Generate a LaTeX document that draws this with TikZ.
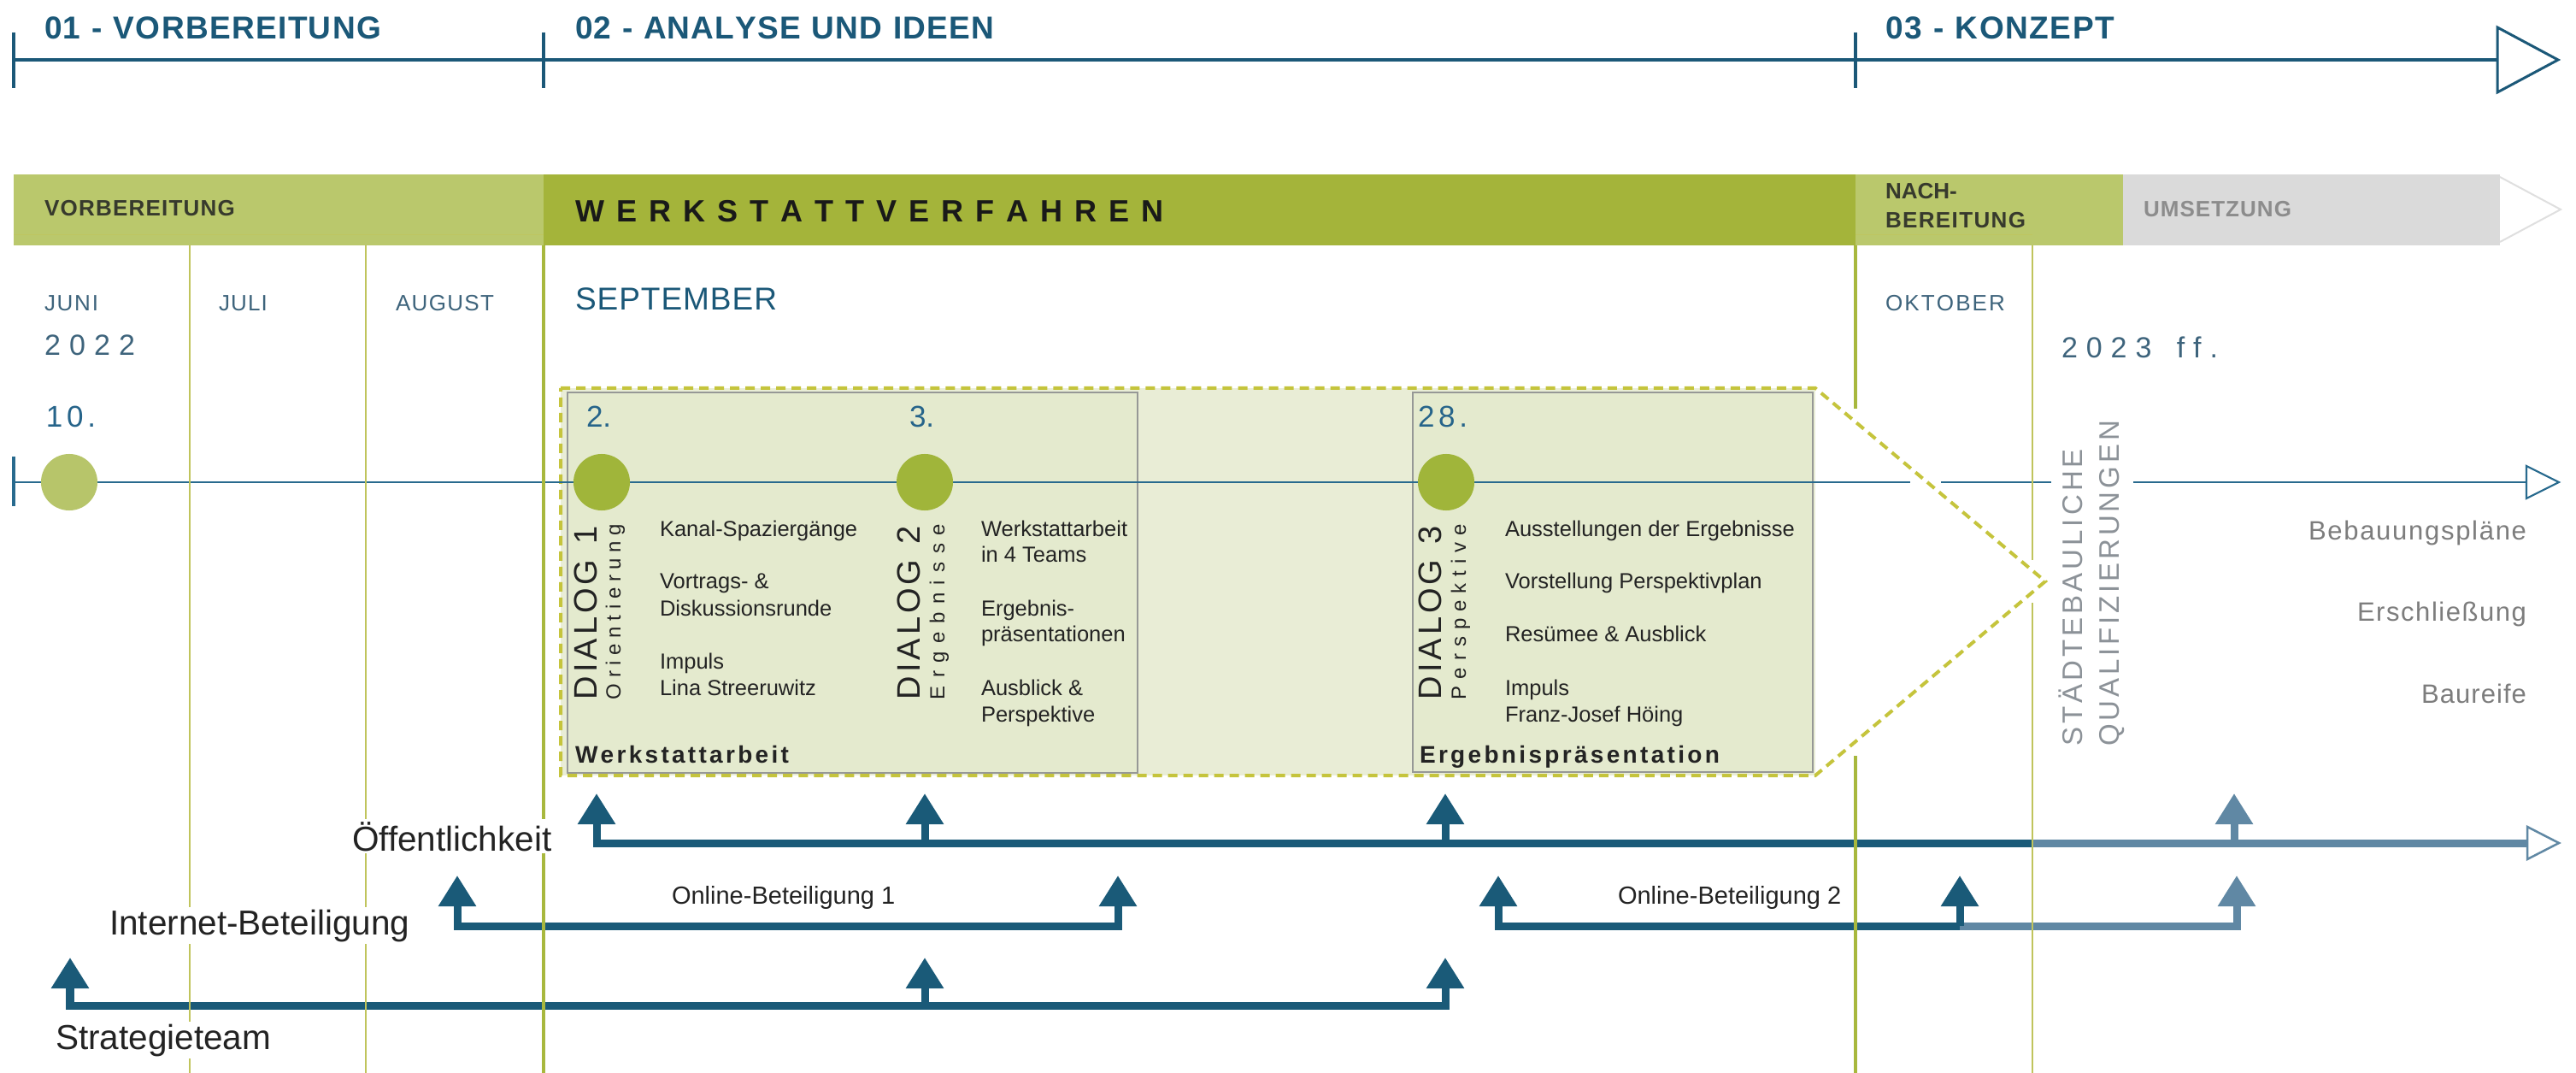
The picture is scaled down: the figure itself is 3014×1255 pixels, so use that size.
\documentclass[tikz,border=0pt]{standalone}
\usepackage{fontspec}
\setmainfont{Liberation Sans}
\usetikzlibrary{arrows.meta}
\newcommand\fpx[1]{\fontsize{\fpeval{#1*0.28453}}{\fpeval{#1*0.34}}\selectfont}
\newdimen\pxu
\pxu=0.01cm
\def\sprdloop#1{\ifx\relax#1\else#1\hfil\expandafter\sprdloop\fi}
\newcommand\sprd[2]{\makebox[#1\pxu][s]{\sprdloop#2\relax\unskip}}
\definecolor{cPhase}{RGB}{27,88,120}
\definecolor{cArrow}{RGB}{26,90,120}
\definecolor{cArrowL}{RGB}{96,136,164}
\definecolor{cMid}{RGB}{40,106,142}
\definecolor{cBarL}{RGB}{186,200,108}
\definecolor{cBarD}{RGB}{164,180,58}
\definecolor{cBarG}{RGB}{218,218,218}
\definecolor{cVline}{RGB}{192,196,92}
\definecolor{cVlineT}{RGB}{168,184,62}
\definecolor{cDot}{RGB}{160,181,58}
\definecolor{cDotL}{RGB}{183,197,106}
\definecolor{cPanel}{RGB}{233,237,214}
\definecolor{cInner}{RGB}{228,234,206}
\definecolor{cBox}{RGB}{150,152,150}
\definecolor{cDash}{RGB}{197,196,60}
\definecolor{cMonth}{RGB}{62,100,124}
\definecolor{cDate}{RGB}{38,100,138}
\definecolor{cText}{RGB}{35,35,35}
\definecolor{cGrayT}{RGB}{125,125,125}
\definecolor{cStaedt}{RGB}{140,146,152}
\definecolor{cBarTxt}{RGB}{55,58,45}
\definecolor{cUms}{RGB}{140,140,140}
\begin{document}
\begin{tikzpicture}[x=0.01cm,y=-0.01cm,
  lbl/.style={inner sep=0pt, outer sep=0pt, anchor=base west},
  phase/.style={lbl, font={\fpx{37}\bfseries}, text=cPhase},
  bartxt/.style={lbl, font={\fpx{26}\bfseries}, text=cBarTxt},
  month/.style={lbl, font={\fpx{26}}, text=cMonth},
  year/.style={lbl, font={\fpx{34}}, text=cMonth},
  datelbl/.style={lbl, font={\fpx{35}}, text=cDate},
  dot/.style={circle, fill=cDot, minimum size=0.66cm, inner sep=0pt},
  dlg/.style={lbl, rotate=90, font={\fpx{38}}, text=cText},
  dsub/.style={lbl, rotate=90, font={\fpx{24}}, text=cText},
  body/.style={lbl, font={\fpx{25.5}}, text=cText},
  boldlbl/.style={lbl, font={\fpx{28}\bfseries}, text=cText},
  right/.style={inner sep=0pt, outer sep=0pt, anchor=base east, font={\fpx{31}}, text=cGrayT},
  staedt/.style={lbl, rotate=90, font={\fpx{33}}, text=cStaedt},
  group/.style={inner sep=0.03cm, outer sep=0pt, anchor=base west, fill=white, font={\fpx{40.5}}, text=cText},
  online/.style={lbl, font={\fpx{29}}, text=cText},
  vthin/.style={draw=cVline, line width=0.02cm},
  vthick/.style={draw=cVlineT, line width=0.035cm},
  mid/.style={draw=cMid, line width=0.025cm},
  fat/.style={draw=cArrow, line width=0.09cm, line join=miter},
  fatL/.style={draw=cArrowL, line width=0.09cm, line join=miter},
  upArrow/.style={-{Triangle[length=0.36cm,width=0.42cm]}},
  bothArrow/.style={{Triangle[length=0.36cm,width=0.42cm]}-{Triangle[length=0.36cm,width=0.42cm]}},
  dashline/.style={draw=cDash, line width=0.04cm, dash pattern=on 0.11cm off 0.07cm},
  boxline/.style={draw=cBox, line width=0.012cm, fill=cInner}
]
\useasboundingbox (0,0) rectangle (3014,1255);
\fill[white] (0,0) rectangle (3014,1255);

% ---------- top phase timeline
\coordinate (t0) at (16,70);
\coordinate (t3) at (2922,70);
\draw[cPhase, line width=0.04cm] (t0) -- (t3);
\draw[cPhase, line width=0.035cm] (16,38) -- (16,103);
\draw[cPhase, line width=0.035cm] (636,38) -- (636,103);
\draw[cPhase, line width=0.035cm] (2171,38) -- (2171,103);
\draw[cPhase, line width=0.03cm, fill=white, line join=miter] (2922,32) -- (2993,70) -- (2922,108) -- cycle;
\node[phase] (p1) at (52,46) {\sprd{394}{01~-~VORBEREITUNG}};
\node[phase] (p2) at (673,46) {\sprd{490}{02~-~ANALYSE~UND~IDEEN}};
\node[phase] (p3) at (2206,46) {\sprd{268}{03~-~KONZEPT}};

% ---------- bar
\fill[cBarL] (16,204) rectangle (636,287);
\fill[cBarD] (636,204) rectangle (2171,287);
\fill[cBarL] (2171,204) rectangle (2484,287);
\fill[cBarG] (2484,204) rectangle (2925,287);
\draw[draw=cBarG!80!black!40, line width=0.02cm, fill=white, line join=miter] (2925,207) -- (2996,245) -- (2925,283);
\draw[draw=cVline!70!cBarL, line width=0.01cm] (16,275) -- (636,275) (2171,275) -- (2378,275);
\node[bartxt] (b1) at (52,253) {\sprd{223}{VORBEREITUNG}};
\node[lbl, font={\fpx{36}\bfseries}, text=black!90] (b2) at (673,260) {\sprd{689}{WERKSTATTVERFAHREN}};
\node[bartxt] (b3a) at (2206,233) {NACH-};
\node[bartxt] (b3b) at (2206,267) {\sprd{164}{BEREITUNG}};
\node[bartxt, text=cUms] (b4) at (2508,254) {\sprd{173}{UMSETZUNG}};

% ---------- months
\node[month] (mJun) at (52,364) {\sprd{63}{JUNI}};
\node[month] (mJul) at (256,364) {\sprd{57}{JULI}};
\node[month] (mAug) at (463,364) {\sprd{115}{AUGUST}};
\node[lbl, font={\fpx{37}}, text=cPhase] (mSep) at (673,363) {\sprd{236}{SEPTEMBER}};
\node[month] (mOkt) at (2206,364) {\sprd{140}{OKTOBER}};
\node[year] (y22) at (52,416) {\sprd{106}{2022}};
\node[year] (y23) at (2412,419) {\sprd{183}{2023~ff.}};

% ---------- chevron panel
\fill[cPanel] (656,454) rectangle (2124,907);
\fill[white] (2124,454) -- (2393,680) -- (2124,907) -- cycle;
\draw[boxline] (664,459) rectangle (1331,904);
\draw[boxline] (1653,459) rectangle (2121,903);
\draw[dashline] (656,454) -- (2124,454) -- (2393,680) -- (2124,907) -- (656,907) -- cycle;

% ---------- middle timeline
\coordinate (m0) at (16,564);
\coordinate (m1) at (2235,564);
\coordinate (m2) at (2271,564);
\coordinate (m3) at (2400,564);
\coordinate (m4) at (2496,564);
\coordinate (me) at (2956,564);
\draw[mid] (m0) -- (m1);
\draw[mid] (m2) -- (m3);
\draw[mid] (m4) -- (me);
\draw[mid, line width=0.03cm] (16,534) -- (16,592);
\draw[draw=cMid, line width=0.022cm, fill=white, line join=miter] (2956,545) -- (2994,564) -- (2956,583) -- cycle;

\node[dot, fill=cDotL] (d0) at (81,564) {};
\node[dot] (d1) at (704,564) {};
\node[dot] (d2) at (1082,564) {};
\node[dot] (d3) at (1692,564) {};
\node[datelbl] (n10) at (54,500) {\sprd{58}{10.}};
\node[datelbl] (n2) at (686,500) {2.};
\node[datelbl] (n3) at (1064,500) {3.};
\node[datelbl] (n28) at (1659,500) {\sprd{58}{28.}};

% ---------- dialog labels
\node[dlg] (D1) at (698,818) {\sprd{203}{DIALOG~1}};
\node[dsub] (D1s) at (726,818) {\sprd{205}{Orientierung}};
\node[dlg] (D2) at (1076,818) {\sprd{203}{DIALOG~2}};
\node[dsub] (D2s) at (1105,818) {\sprd{205}{Ergebnisse}};
\node[dlg] (D3) at (1686,818) {\sprd{203}{DIALOG~3}};
\node[dsub] (D3s) at (1715,818) {\sprd{205}{Perspektive}};

\node[body] (k11) at (772,627) {Kanal-Spaziergänge};
\node[body] (k12) at (772,689) {Vortrags- \&};
\node[body] (k13) at (772,720) {Diskussionsrunde};
\node[body] (k14) at (772,782) {Impuls};
\node[body] (k15) at (772,813) {Lina Streeruwitz};

\node[body] (k21) at (1148,627) {Werkstattarbeit};
\node[body] (k22) at (1148,658) {in 4 Teams};
\node[body] (k23) at (1148,720) {Ergebnis-};
\node[body] (k24) at (1148,751) {präsentationen};
\node[body] (k25) at (1148,813) {Ausblick \&};
\node[body] (k26) at (1148,844) {Perspektive};

\node[body] (k31) at (1761,627) {Ausstellungen der Ergebnisse};
\node[body] (k32) at (1761,689) {Vorstellung Perspektivplan};
\node[body] (k33) at (1761,751) {Resümee \& Ausblick};
\node[body] (k34) at (1761,813) {Impuls};
\node[body] (k35) at (1761,844) {Franz-Josef Höing};

\node[boldlbl] (w1) at (673,892) {\sprd{250}{Werkstattarbeit}};
\node[boldlbl] (w3) at (1661,892) {\sprd{351}{Ergebnispräsentation}};

% ---------- right side
\node[staedt] (s1) at (2436,873) {\sprd{348}{STÄDTEBAULICHE}};
\node[staedt] (s2) at (2479,873) {\sprd{381}{QUALIFIZIERUNGEN}};
\node[right] (r1) at (2956,632) {\sprd{255}{Bebauungspläne}};
\node[right] (r2) at (2956,726) {\sprd{198}{Erschließung}};
\node[right] (r3) at (2956,822) {\sprd{123}{Baureife}};

% ---------- participation arrows
\coordinate (A0) at (698,986);  \coordinate (A0t) at (698,928);
\coordinate (A1) at (1082,986); \coordinate (A1t) at (1082,928);
\coordinate (A2) at (1691,986); \coordinate (A2t) at (1691,928);
\coordinate (Am) at (2378,986);
\coordinate (A3) at (2614,986); \coordinate (A3t) at (2614,928);
\coordinate (Ae) at (2957,986);
\draw[fat, upArrow] (Am) -- (A0) -- (A0t);
\draw[fat, upArrow] (A1) -- (A1t);
\draw[fat, upArrow] (A2) -- (A2t);
\draw[fatL] (Am) -- (Ae);
\draw[fatL, upArrow] (A3) -- (A3t);
\draw[draw=cArrowL, line width=0.025cm, fill=white, line join=miter] (2957,967) -- (2994,986) -- (2957,1005) -- cycle;

\coordinate (B0) at (535,1083);  \coordinate (B0t) at (535,1024);
\coordinate (B1) at (1308,1083); \coordinate (B1t) at (1308,1024);
\coordinate (B2) at (1753,1083); \coordinate (B2t) at (1753,1024);
\coordinate (B3) at (2293,1083); \coordinate (B3t) at (2293,1024);
\coordinate (B4) at (2617,1083); \coordinate (B4t) at (2617,1024);
\draw[fat, bothArrow] (B0t) -- (B0) -- (B1) -- (B1t);
\draw[fatL, upArrow] (B3) -- (B4) -- (B4t);
\draw[fat, upArrow] (B3) -- (B2) -- (B2t);
\draw[fat, upArrow] (B3) -- (B3t);

\coordinate (C0) at (82,1176);   \coordinate (C0t) at (82,1120);
\coordinate (C1) at (1082,1176); \coordinate (C1t) at (1082,1120);
\coordinate (C2) at (1691,1176); \coordinate (C2t) at (1691,1120);
\draw[fat, bothArrow] (C0t) -- (C0) -- (C2) -- (C2t);
\draw[fat, upArrow] (C1) -- (C1t);

% ---------- vertical month lines
\draw[vthin] (222,287) -- (222,1255);
\draw[vthin] (428,287) -- (428,1255);
\draw[vthick] (636,287) -- (636,1255);
\draw[vthick] (2171,287) -- (2171,478) (2171,884) -- (2171,1255);
\draw[vthin] (2378,287) -- (2378,655) (2378,705) -- (2378,1255);

% ---------- group labels
\node[group] (gO) at (409,995) {Öffentlichkeit};
\node[group] (gI) at (125,1093) {Internet-Beteiligung};
\node[group] (gS) at (62,1227) {Strategieteam};
\node[online] (o1) at (786,1057) {Online-Beteiligung 1};
\node[online] (o2) at (1893,1057) {Online-Beteiligung 2};
\end{tikzpicture}
\end{document}
